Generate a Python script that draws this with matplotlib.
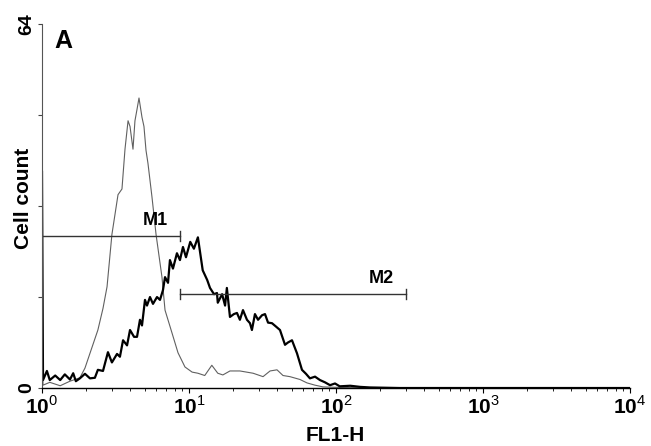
import matplotlib.pyplot as plt
import matplotlib.ticker as mticker

plt.rcParams['font.family'] = ['Liberation Sans', 'DejaVu Sans']
plt.rcParams['mathtext.fontset'] = 'custom'
plt.rcParams['mathtext.rm'] = 'Liberation Sans'
plt.rcParams['mathtext.bf'] = 'Liberation Sans:bold'

# control sample (thin grey histogram)
ctrl_fl1 = [1.00, 1.016, 1.13, 1.33, 1.55, 1.81, 1.96, 2.12, 2.40, 2.60, 2.77, 2.99, 3.29,
            3.50, 3.67, 3.85, 3.97, 4.16, 4.29, 4.43, 4.57, 4.79, 4.94, 5.10, 5.26, 5.60,
            5.97, 6.55, 6.87, 7.66, 8.42, 9.39, 10.5, 11.5, 12.8, 14.3, 15.7, 17.0, 19.0,
            22.2, 27.3, 31.9, 35.6, 39.7, 43.6, 48.6, 56.9, 63.5, 72.0, 81.6, 106, 199, 10000]
ctrl_count = [9, 0.5, 1.0, 0.4, 1.2, 1.8, 3.5, 6.1, 10.2, 14, 17.8, 27, 34,
              35, 42, 47, 46, 42, 47, 49, 51, 47.6, 46, 41.8, 39.5, 33.6,
              27, 19.5, 13.7, 9.7, 6.2, 3.7, 2.8, 2.6, 2.2, 4.0, 2.6, 2.3, 3.0,
              3.0, 2.6, 2.0, 3.0, 3.2, 2.2, 2.0, 1.5, 0.9, 0.5, 0.2, 0.1, 0.0, 0.0]

# stained sample (thick black histogram)
stain_fl1 = [1.00, 1.016, 1.08, 1.13, 1.23, 1.33, 1.43, 1.55, 1.63, 1.70, 1.81, 1.96, 2.12,
             2.29, 2.40, 2.60, 2.81, 2.99, 3.24, 3.39, 3.56, 3.79, 3.97, 4.23, 4.43, 4.64,
             4.79, 5.02, 5.18, 5.43, 5.69, 6.06, 6.35, 6.65, 6.87, 7.20, 7.42, 7.78, 8.28,
             8.68, 9.10, 9.54, 10.2, 10.8, 11.5, 12.4, 13.3, 13.9, 14.8, 15.5, 15.7, 16.8,
             17.6, 18.1, 19.0, 20.2, 21.2, 22.2, 23.3, 24.8, 26.0, 26.8, 28.1, 29.5, 31.4,
             32.9, 34.5, 36.7, 39.1, 41.6, 45.0, 47.1, 50.2, 54.3, 58.7, 62.5, 66.5, 72.0,
             77.8, 84.2, 91.1, 98.5, 106, 125, 146, 170, 272, 10000]
stain_count = [38, 1.4, 3.0, 1.4, 2.2, 1.4, 2.4, 1.5, 2.6, 1.2, 1.7, 2.5, 1.7,
               1.8, 3.2, 3.0, 6.3, 4.5, 6.0, 5.5, 8.4, 7.5, 10.2, 9.0, 9.0, 12,
               11, 15.5, 14.5, 16, 14.8, 16, 15.5, 17.2, 19.5, 18.5, 22.5, 21, 23.7,
               22.5, 24.8, 23, 25.7, 24.5, 26.5, 20.7, 19, 17.6, 16.5, 16.7, 15, 16.5,
               14.5, 17.6, 12.5, 13, 13.2, 12, 13.7, 12, 11.4, 10.2, 13, 12, 12.8,
               13, 11.5, 11.4, 10.8, 10.2, 7.6, 8.0, 8.4, 6.1, 3.2, 2.5, 1.7, 2.0,
               1.4, 1.0, 0.5, 0.8, 0.3, 0.4, 0.2, 0.1, 0.0, 0.0]

# gates
gate_names = ['M1', 'M2']
gate_lo = [1.0, 8.7]
gate_hi = [8.7, 300]
gate_y = [26.7, 16.5]

fig = plt.figure(figsize=(6.51, 4.46), dpi=100)
ax = fig.add_axes([0.0645, 0.130, 0.9032, 0.816])

ax.plot(ctrl_fl1, ctrl_count, color='#606060', lw=0.8)
ax.plot(stain_fl1, stain_count, color='black', lw=1.6)

for name, lo, hi, y in zip(gate_names, gate_lo, gate_hi, gate_y):
    ax.plot([lo, hi], [y, y], color='#333333', lw=1.0)
    ax.plot([hi, hi], [y - 0.9, y + 0.9], color='#333333', lw=1.0)
    if lo > 1:
        ax.plot([lo, lo], [y - 0.9, y + 0.9], color='#333333', lw=1.0)
    ax.text(hi / 1.22, y + 1.3, name, ha='right', va='bottom',
            fontsize=13, fontweight='bold')

ax.set_xscale('log')
ax.set_xlim(1, 10000)
ax.set_ylim(0, 64)

ax.set_xticks([1, 10, 100, 1000, 10000])
ax.set_xticklabels([r'$\mathbf{10}^{%d}$' % i for i in range(5)], fontsize=15)
ax.xaxis.set_minor_locator(mticker.LogLocator(base=10, subs=range(2, 10)))
ax.xaxis.set_minor_formatter(mticker.NullFormatter())

ax.set_yticks([0, 64])
ax.set_yticklabels(['0', '64'], rotation=90, va='center', fontsize=14, fontweight='bold')
ax.set_yticks([16, 32, 48], minor=True)

ax.tick_params(axis='x', which='major', length=3.5, width=0.8, pad=2)
ax.tick_params(axis='x', which='minor', length=2.5, width=0.6)
ax.tick_params(axis='y', which='both', length=3, width=0.8, color='#444444', pad=2)

for s in ['top', 'right']:
    ax.spines[s].set_visible(False)
ax.spines['left'].set_color('#555555')
ax.spines['left'].set_linewidth(0.8)
ax.spines['bottom'].set_linewidth(1.0)

ax.set_xlabel('FL1-H', fontsize=15, fontweight='bold')
ax.xaxis.set_label_coords(0.498, -0.105)
ax.set_ylabel('Cell count', fontsize=15, fontweight='bold')
ax.yaxis.set_label_coords(-0.015, 0.52)

ax.text(0.037, 0.953, 'A', transform=ax.transAxes, fontsize=18, fontweight='bold',
        ha='center', va='center')

fig.savefig('out.png', dpi=100)
